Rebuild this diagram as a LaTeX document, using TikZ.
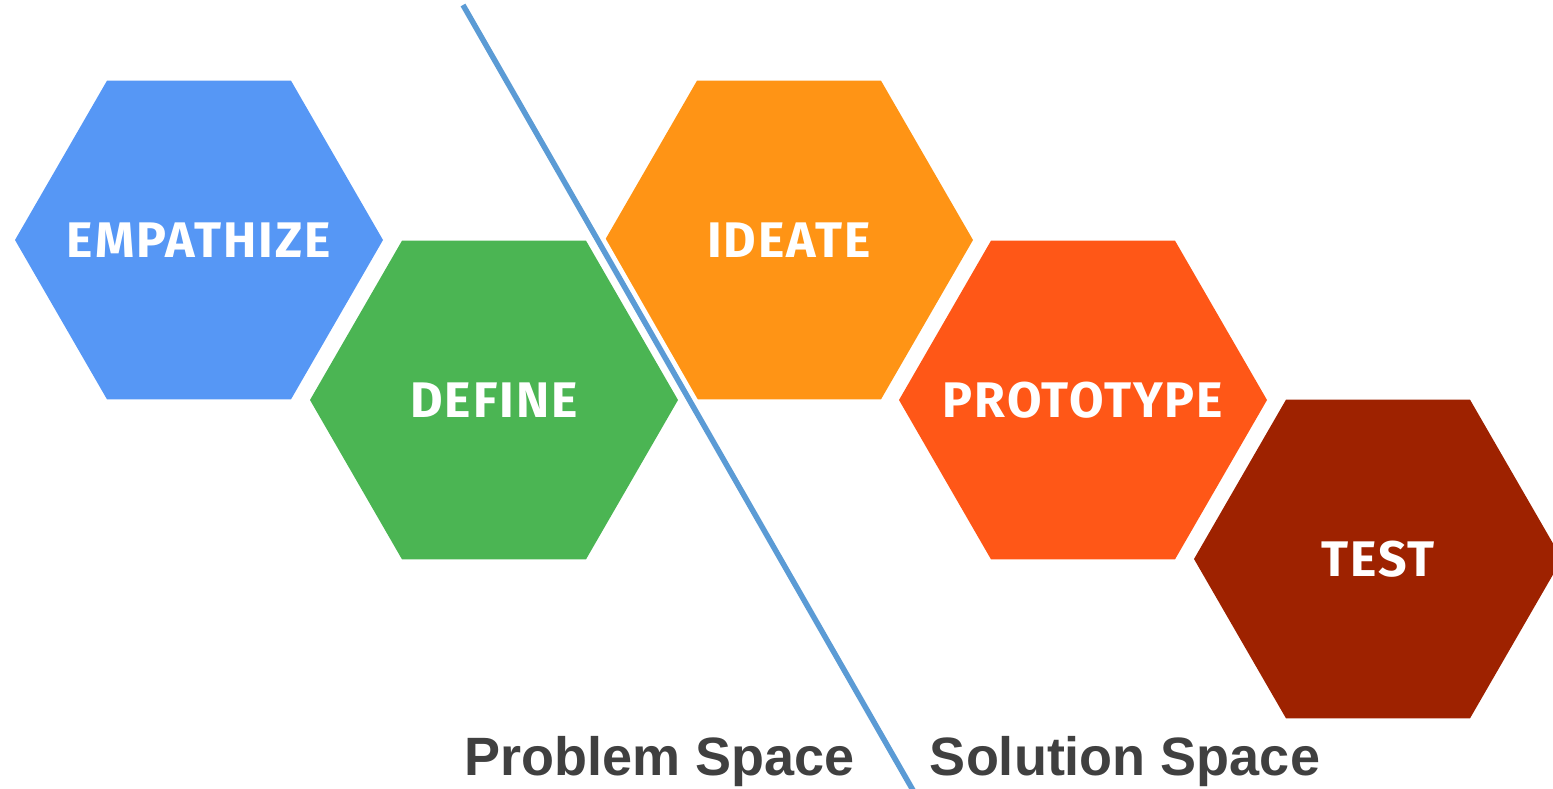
\documentclass[tikz,border=0pt]{standalone}
\usepackage{fontspec}
\setmainfont{Liberation Sans}
\newfontfamily\hexfont[LetterSpace=4]{Fira Sans}
\usetikzlibrary{shapes.geometric}
\definecolor{cEmp}{HTML}{5697F5}
\definecolor{cDef}{HTML}{4BB553}
\definecolor{cIde}{HTML}{FF9415}
\definecolor{cPro}{HTML}{FF5717}
\definecolor{cTes}{HTML}{9E2200}
\definecolor{cLine}{HTML}{5B9BD5}
\definecolor{cTxt}{HTML}{404040}
\tikzset{
  hexbox/.style={regular polygon, regular polygon sides=6, minimum size=368pt,
    inner sep=0pt, outer sep=0pt, draw=none},
  hexlabel/.style={text=white, inner sep=0pt,
    font=\hexfont\bfseries\fontsize{50}{50}\selectfont},
  spacelabel/.style={text=cTxt, font=\bfseries\fontsize{54}{54}\selectfont, anchor=base, inner sep=0pt}
}
\begin{document}
\begin{tikzpicture}[x=1pt,y=-1pt]
\useasboundingbox (0,0) rectangle (1553,788);
\begin{scope}
\clip (0,0) rectangle (1553,788);
\node[hexbox, fill=cEmp] (emp) at (199,240) {};
\node[hexbox, fill=cDef] (def) at (494,400) {};
\node[hexbox, fill=cIde] (ide) at (789,240) {};
\node[hexbox, fill=cPro] (pro) at (1083,400) {};
\node[hexbox, fill=cTes] (tes) at (1378,559) {};
\node[hexlabel] (empt) at (emp.center) {EMPATHIZE};
\node[hexlabel] (deft) at (def.center) {DEFINE};
\node[hexlabel] (idet) at (ide.center) {IDEATE};
\node[hexlabel] (prot) at (pro.center) {PROTOTYPE};
\node[hexlabel] (test) at (tes.center) {TEST};
\coordinate (ltop) at (463,5);
\coordinate (lbot) at (914,792);
\draw[white, line width=15pt] (ltop) -- (lbot);
\draw[cLine, line width=5.5pt] (ltop) -- (lbot);
\end{scope}
\node[spacelabel] (prob) at (660,775) {Problem Space};
\node[spacelabel] (sol) at (1125,775) {Solution Space};
\end{tikzpicture}
\end{document}
